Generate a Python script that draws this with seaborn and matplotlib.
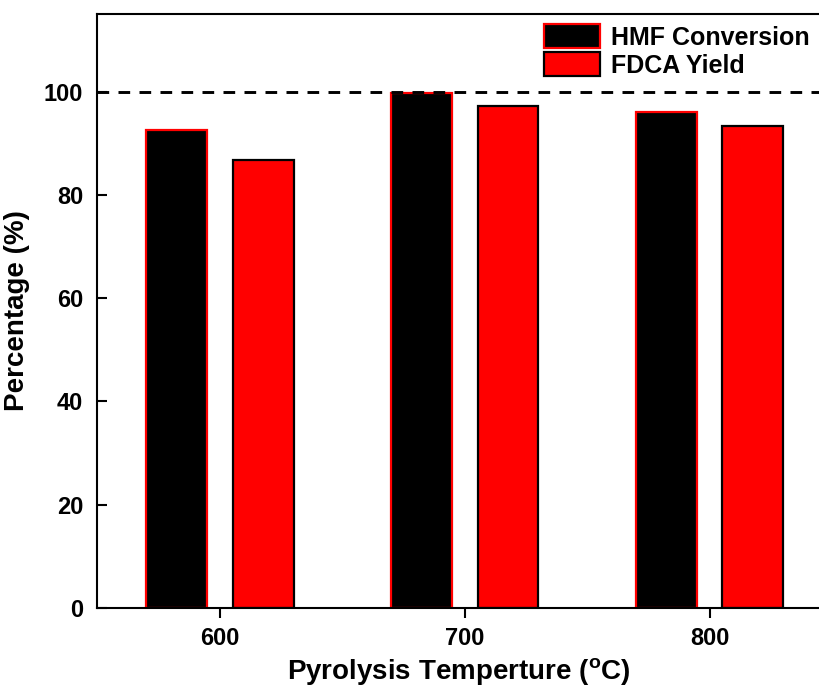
import matplotlib
matplotlib.use("Agg")
import matplotlib.pyplot as plt
from matplotlib.patches import Patch
import seaborn as sns
import pandas as pd

temps = ["600", "700", "800"]
hmf_conversion = [92.6, 99.7, 96.1]
fdca_yield = [86.7, 97.1, 93.4]
series_names = ["HMF Conversion", "FDCA Yield"]
y_ticks = [0, 20, 40, 60, 80, 100]

sns.set_style("white")
plt.rcParams["font.family"] = ["Liberation Sans", "DejaVu Sans"]
plt.rcParams["font.weight"] = "bold"
plt.rcParams["mathtext.fontset"] = "custom"
plt.rcParams["mathtext.rm"] = "Liberation Sans:bold"
plt.rcParams["mathtext.bf"] = "Liberation Sans:bold"
for key in ["text.color", "axes.labelcolor", "xtick.color", "ytick.color"]:
    plt.rcParams[key] = "black"

df = pd.DataFrame({
    "temp": temps * 2,
    "value": hmf_conversion + fdca_yield,
    "series": [series_names[0]] * len(temps) + [series_names[1]] * len(temps),
})

fig = plt.figure(figsize=(8.2, 6.91), dpi=100)
ax = fig.add_axes([0.1183, 0.1201, 0.8817, 0.8596])

fills = {series_names[0]: "black", series_names[1]: "#ff0000"}
edges = {series_names[0]: "#ff0000", series_names[1]: "black"}

sns.barplot(data=df, x="temp", y="value", hue="series", order=temps,
            hue_order=series_names, palette=fills, width=0.704, gap=0.293,
            saturation=1, legend=False, ax=ax)

for container, name in zip(ax.containers, series_names):
    for bar in container:
        bar.set_facecolor(fills[name])
        bar.set_edgecolor(edges[name])
        bar.set_linewidth(1.6)

ax.axhline(100, color="black", lw=2.1, dashes=(4, 3.2), zorder=5)

ax.set_xlim(-0.502, 2.45)
ax.set_ylim(0, 115)
ax.set_yticks(y_ticks)
ax.set_yticklabels([str(t) for t in y_ticks])

for side in ["left", "top", "bottom"]:
    ax.spines[side].set_visible(True)
    ax.spines[side].set_color("black")
    ax.spines[side].set_linewidth(1.5)
ax.spines["right"].set_visible(False)

ax.tick_params(axis="y", direction="in", length=7, width=1.5, labelsize=17,
               left=True, pad=10, colors="black")
ax.tick_params(axis="x", direction="out", length=7, width=1.5, labelsize=17,
               bottom=True, pad=7, colors="black")
for lbl in ax.get_xticklabels() + ax.get_yticklabels():
    lbl.set_fontweight("bold")

ax.set_xlabel(r"Pyrolysis Temperture ($^{\mathbf{o}}$C)", fontsize=20,
              fontweight="bold", labelpad=4)
ax.set_ylabel("Percentage (%)", fontsize=20, fontweight="bold", labelpad=10)

handles = [Patch(facecolor=fills[n], edgecolor=edges[n], linewidth=1.6)
           for n in series_names]
ax.legend(handles, series_names, loc="upper right", frameon=False,
          prop={"weight": "bold", "size": 18}, handlelength=2.25,
          handleheight=1.1, handletextpad=0.45, labelspacing=0.1,
          borderaxespad=0.0, bbox_to_anchor=(1.0, 1.0), labelcolor="black")

fig.savefig("out.png", dpi=100)
